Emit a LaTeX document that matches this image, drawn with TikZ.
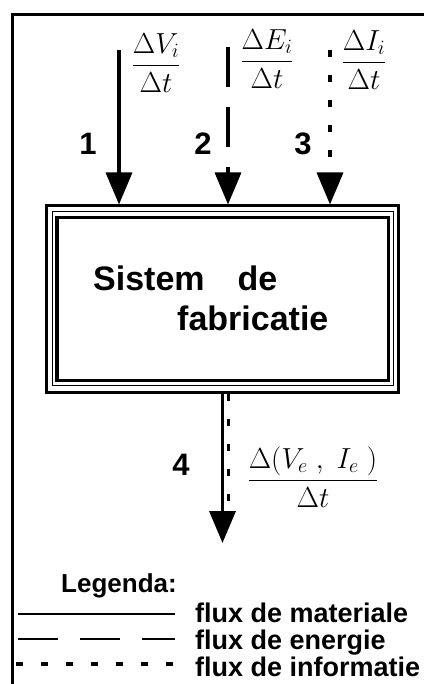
\RequirePackage{fix-cm}
\documentclass[tikz,border=0pt]{standalone}
\usepackage{amsmath}
\usepackage{fontspec}
\setmainfont{Liberation Sans}
\usetikzlibrary{arrows.meta,positioning,calc}

\begin{document}
\begin{tikzpicture}[
    x=1pt,y=-1pt,
    >={Triangle[length=32pt,width=26pt]},
    sysbox/.style={rectangle,draw,line width=3pt,outer sep=1.5pt,inner sep=0pt,
                   minimum width=352pt,minimum height=186pt},
    mat/.style={->,line width=3.5pt},
    ener/.style={->,line width=3.5pt,dash pattern=on 40pt off 20pt},
    info/.style={->,line width=3.5pt,dash pattern=on 7pt off 18pt},
    num/.style={font=\fontsize{31}{31}\selectfont\bfseries},
    frac/.style={font=\fontsize{29}{29}\selectfont},
    boxtxt/.style={font=\fontsize{34}{34}\selectfont\bfseries,anchor=base west,inner sep=0pt},
    legtxt/.style={font=\fontsize{27}{27}\selectfont\bfseries,anchor=base west,inner sep=0pt},
    legline/.style={line width=2.8pt},
]
\useasboundingbox (0,0) rectangle (424,684);

% outer frame (cut at right and bottom)
\draw[line width=3pt] (12,684) -- (12,15) -- (424,15);

% the system block, three lines
\node[sysbox] (sys) at (222.5,299) {};
\draw[line width=1pt] ($(sys.north west)+(7.5,7)$) rectangle ($(sys.south east)+(-7,-8.5)$);
\draw[line width=3.5pt] ($(sys.north west)+(12,13)$) rectangle ($(sys.south east)+(-11.5,-13)$);
\node[boxtxt] (sis) at (93,290) {Sistem\hspace{33pt}de};
\node[boxtxt] (fab) at (177,330) {fabricatie};

% input flows
\coordinate (in1) at (119,50);
\coordinate (in2) at (228,47);
\coordinate (in3) at (330,50);
\draw[mat] (in1) -- (in1 |- sys.north);
\draw[ener] (in2) -- (in2 |- sys.north);
\draw[info] (in3) -- (in3 |- sys.north);

\node[num] (n1) at (88,144) {1};
\node[num] (n2) at (203,144) {2};
\node[num] (n3) at (303,144) {3};

\node[frac] (fv) at (156,63) {$\dfrac{\Delta V_i}{\Delta t}$};
\node[frac] (fe) at (267,59) {$\dfrac{\Delta E_i}{\Delta t}$};
\node[frac] (fi) at (364,60) {$\dfrac{\Delta I_i}{\Delta t}$};

% output flow
\coordinate (out) at (222.5,543);
\coordinate (outi) at (228.5,512);
\draw[mat] (sys.south) -- (out);
\draw[line width=3pt,dash pattern=on 7pt off 18pt] (sys.south -| outi) -- (outi);
\node[num] (n4) at (181,465) {4};
\node[frac] (fo) at (313,477) {$\dfrac{\Delta(V_e\;,\;I_e\;)}{\Delta t}$};

% legend
\node[legtxt,font=\fontsize{26}{26}\selectfont\bfseries] (leg) at (61,592) {Legenda:};
\coordinate (la1) at (18,614);  \coordinate (lb1) at (175,614);
\coordinate (la2) at (18,639);  \coordinate (lb2) at (175,639);
\coordinate (la3) at (16,664);  \coordinate (lb3) at (175,664);
\draw[legline] (la1) -- (lb1);
\draw[legline,dash pattern=on 40pt off 22pt] (la2) -- (lb2);
\draw[legline,line width=3.5pt,dash pattern=on 7pt off 18pt] (la3) -- (lb3);
\node[legtxt] (t1) at (195,622) {flux de materiale};
\node[legtxt] (t2) at (195,649) {flux de energie};
\node[legtxt] (t3) at (195,676) {flux de informatie};

\end{tikzpicture}
\end{document}
